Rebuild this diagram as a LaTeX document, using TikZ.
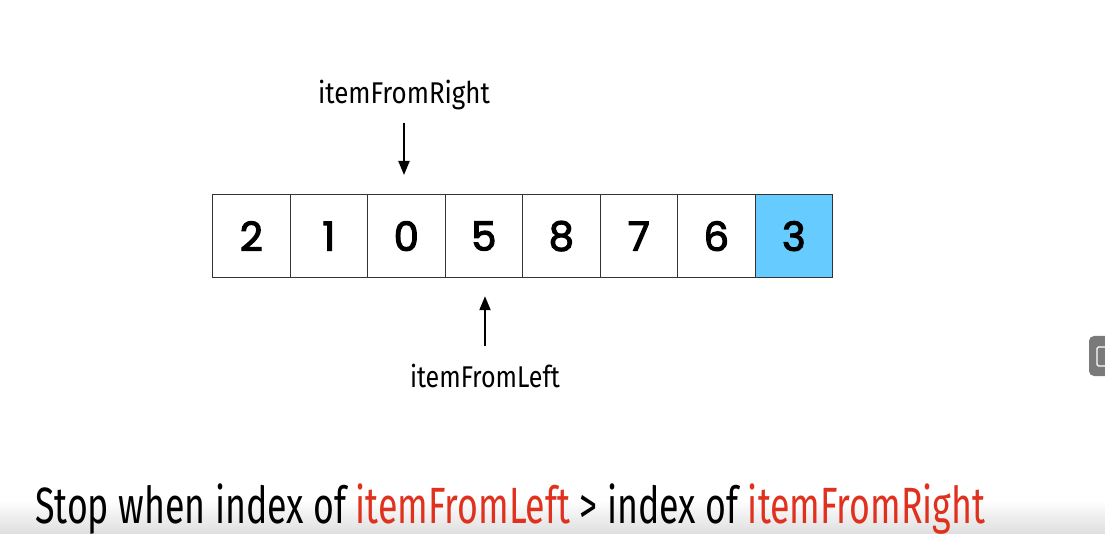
\documentclass[tikz,border=0pt]{standalone}
\usepackage{fontspec}
\setmainfont{Fira Sans}[FakeStretch=0.82]
\newfontfamily\digitfont{Poppins}[FakeBold=3]
\usetikzlibrary{arrows.meta}
\definecolor{cellblue}{HTML}{66CCFF}
\definecolor{txtred}{HTML}{E0311F}
\definecolor{linegray}{HTML}{333333}
\definecolor{btngray}{HTML}{7A7A7A}
\begin{document}
\begin{tikzpicture}[x=1pt,y=-1pt,
  cell/.style={draw=linegray, line width=1.2pt, minimum width=77.5pt, minimum height=83pt,
    inner sep=0pt, anchor=north west, font=\digitfont\fontsize{40}{40}\selectfont},
  lbl/.style={inner sep=0pt, font=\fontsize{30}{30}\selectfont},
  ptr/.style={line width=2pt, -{Triangle[length=14pt,width=11pt]}}]
\useasboundingbox (0,0) rectangle (1105,534);
\fill[white] (0,0) rectangle (1105,534);
\fill[top color=white, bottom color=black!13] (0,500) rectangle (1105,534);
% cells
\foreach \v [count=\i from 0] in {2,1,0,5,8,7,6} {
  \node[cell] (c\i) at ({212+77.5*\i},194) {\v};
}
\node[cell, fill=cellblue] (c7) at ({212+77.5*7},194) {3};
% labels
\node[lbl, anchor=base] (lblR) at (404,104) {\resizebox{172pt}{\height}{itemFromRight}};
\node[lbl, anchor=base] (lblL) at (485,388) {\resizebox{150pt}{\height}{itemFromLeft}};
\draw[ptr, shorten <=12pt, shorten >=19pt] (lblR.south) -- (lblR.south |- c2.north);
\draw[ptr, shorten <=18pt, shorten >=18pt] (lblL.north) -- (lblL.north |- c3.south);
% statement
\node[inner sep=0pt, anchor=base west, font=\fontsize{51}{51}\selectfont] (stmt) at (35,523)
  {\resizebox{950pt}{\height}{Stop when index of \textcolor{txtred}{itemFromLeft} > index of \textcolor{txtred}{itemFromRight}}};
% side button
\fill[btngray, rounded corners=5pt] (1089,336) rectangle (1120,376);
\draw[white, line width=1.3pt, rounded corners=1.5pt] (1097,347) rectangle (1112,366);
\end{tikzpicture}
\end{document}
